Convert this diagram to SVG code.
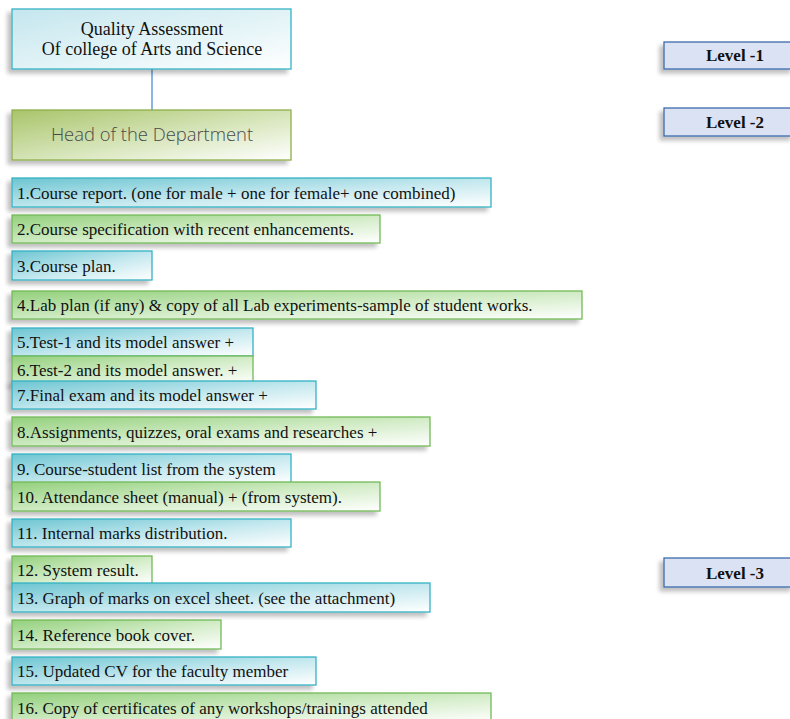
<svg xmlns="http://www.w3.org/2000/svg" width="790" height="719" viewBox="0 0 790 719">
<defs>
<linearGradient id="gc" x1="0" y1="0" x2="1" y2="1">
<stop offset="0" stop-color="#6cc5d2"/><stop offset="0.55" stop-color="#c6e9ef"/><stop offset="1" stop-color="#ffffff"/>
</linearGradient>
<linearGradient id="gg" x1="0" y1="0" x2="1" y2="1">
<stop offset="0" stop-color="#93d07c"/><stop offset="0.55" stop-color="#d4edc9"/><stop offset="1" stop-color="#ffffff"/>
</linearGradient>
<linearGradient id="gtop" x1="0" y1="0" x2="1" y2="1">
<stop offset="0" stop-color="#c4e6ee"/><stop offset="0.6" stop-color="#e6f5f8"/><stop offset="1" stop-color="#ffffff"/>
</linearGradient>
<linearGradient id="ghead" x1="0" y1="0" x2="1" y2="1">
<stop offset="0" stop-color="#a9c46a"/><stop offset="0.55" stop-color="#d8e6bc"/><stop offset="1" stop-color="#ffffff"/>
</linearGradient>
<filter id="sh" x="-10%" y="-30%" width="120%" height="170%">
<feGaussianBlur in="SourceAlpha" stdDeviation="2"/>
<feOffset dx="-4" dy="4" result="b"/>
<feComponentTransfer><feFuncA type="linear" slope="0.25"/></feComponentTransfer>
<feMerge><feMergeNode/><feMergeNode in="SourceGraphic"/></feMerge>
</filter>
</defs>
<style>
.c{fill:url(#gc);stroke:#35b3c4;stroke-width:1.3;filter:url(#sh)}
.g{fill:url(#gg);stroke:#72bb58;stroke-width:1.3;filter:url(#sh)}
.lv{fill:#dbe2f3;stroke:#3d6cad;stroke-width:1.3;filter:url(#sh)}
.t{font-family:"Liberation Serif","Times New Roman",serif;font-size:17px;fill:#111}
.tt{font-family:"Liberation Serif","Times New Roman",serif;font-size:18px;fill:#111;text-anchor:middle}
.lt{font-family:"Liberation Serif","Times New Roman",serif;font-size:17px;font-weight:bold;fill:#111;text-anchor:middle}
</style>
<g id="connectors"><line x1="152" y1="69" x2="152" y2="110" stroke="#4a8fd8" stroke-width="1.3"/></g>
<g id="top"><rect x="12" y="9" width="279" height="60" fill="url(#gtop)" stroke="#35b3c4" stroke-width="1.3" filter="url(#sh)"/>
<text class="tt" x="152" y="35">Quality Assessment</text>
<text class="tt" x="152" y="55">Of college of Arts and Science</text></g>
<g id="head"><rect x="12" y="110" width="279" height="50" fill="url(#ghead)" stroke="#8fb04a" stroke-width="1.3" filter="url(#sh)"/>
<text x="152" y="141" text-anchor="middle" font-family="'Open Sans','Noto Sans',sans-serif" font-weight="300" font-size="18.4" fill="#4a4a4a">Head of the Department</text></g>
<g id="level1"><rect class="lv" x="664" y="42" width="130" height="27"/><text class="lt" x="735" y="61">Level -1</text></g>
<g id="level2"><rect class="lv" x="664" y="108" width="130" height="28"/><text class="lt" x="735" y="128">Level -2</text></g>
<g id="level3"><rect class="lv" x="664" y="558" width="130" height="29"/><text class="lt" x="735" y="579">Level -3</text></g>
<g id="n1"><rect class="c" x="12" y="178" width="479" height="29"/><text class="t" x="17" y="199">1.Course report. (one for male + one for female+ one combined)</text></g>
<g id="n2"><rect class="g" x="12" y="215" width="368" height="28"/><text class="t" x="17" y="235">2.Course specification with recent enhancements.</text></g>
<g id="n3"><rect class="c" x="12" y="251" width="140" height="29"/><text class="t" x="17" y="272">3.Course plan.</text></g>
<g id="n4"><rect class="g" x="12" y="291" width="570" height="28"/><text class="t" x="17" y="311">4.Lab plan (if any) &amp; copy of all Lab experiments-sample of student works.</text></g>
<g id="n5"><rect class="c" x="12" y="328" width="241" height="28"/><text class="t" x="17" y="348">5.Test-1 and its model answer  +</text></g>
<g id="n6"><rect class="g" x="12" y="356" width="241" height="28"/><text class="t" x="17" y="376">6.Test-2 and its model answer. +</text></g>
<g id="n7"><rect class="c" x="12" y="381" width="304" height="28"/><text class="t" x="17" y="401">7.Final exam and its model answer +</text></g>
<g id="n8"><rect class="g" x="12" y="417" width="418" height="29"/><text class="t" x="17" y="438">8.Assignments, quizzes, oral exams and researches +</text></g>
<g id="n9"><rect class="c" x="12" y="454" width="279" height="29"/><text class="t" x="17" y="475">9. Course-student list from the system</text></g>
<g id="n10"><rect class="g" x="12" y="482" width="368" height="29"/><text class="t" x="17" y="503">10. Attendance sheet (manual) + (from system).</text></g>
<g id="n11"><rect class="c" x="12" y="519" width="279" height="28"/><text class="t" x="17" y="539">11. Internal marks distribution.</text></g>
<g id="n12"><rect class="g" x="12" y="556" width="140" height="28"/><text class="t" x="17" y="576">12. System result.</text></g>
<g id="n13"><rect class="c" x="12" y="583" width="418" height="29"/><text class="t" x="17" y="604">13. Graph of marks on excel sheet. (see the attachment)</text></g>
<g id="n14"><rect class="g" x="12" y="620" width="209" height="29"/><text class="t" x="17" y="641">14. Reference book cover.</text></g>
<g id="n15"><rect class="c" x="12" y="657" width="304" height="28"/><text class="t" x="17" y="677">15. Updated CV for the faculty member</text></g>
<g id="n16"><rect class="g" x="12" y="693" width="479" height="29"/><text class="t" x="17" y="714">16. Copy of certificates of any workshops/trainings attended</text></g>
</svg>
